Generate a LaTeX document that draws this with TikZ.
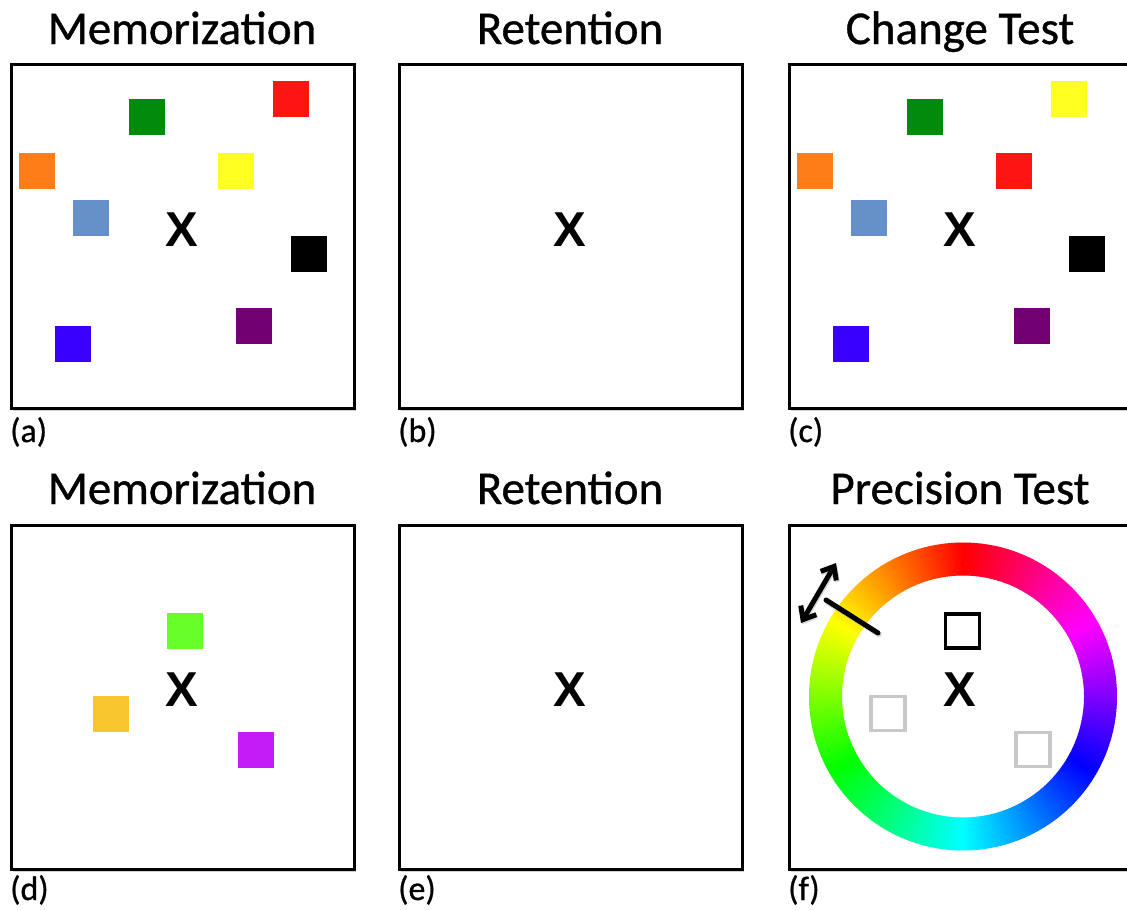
\documentclass[tikz,border=0pt]{standalone}
\usepackage{fontspec}
\setmainfont{Carlito}[FakeBold=0.8]
\newfontfamily\xfont{Liberation Sans}
\usetikzlibrary{arrows.meta,shadows}
\tikzset{
  panel/.style={draw=black, line width=3pt, fill=white, minimum width=343pt, minimum height=344pt,
    inner sep=0pt, anchor=north west,
    drop shadow={shadow xshift=1.2pt, shadow yshift=-2pt, opacity=0.35}},
  ptitle/.style={anchor=base, inner sep=0pt, font=\fontsize{47}{50}\selectfont},
  plabel/.style={anchor=base west, inner sep=0pt, font=\fontsize{34}{38}\selectfont},
  fix/.style={inner sep=0pt, font=\xfont\bfseries\fontsize{49}{52}\selectfont},
  sq/.style={fill=#1, minimum size=36pt, inner sep=0pt},
  probe/.style={draw=#1, line width=3.2pt, minimum size=34pt, inner sep=0pt},
  barb/.style={line width=5pt, {Straight Barb[length=11pt,width=18pt]}-{Straight Barb[length=11pt,width=18pt]}},
}
\definecolor{cgreen}{HTML}{008C0A}
\definecolor{cred}{HTML}{FF1414}
\definecolor{corange}{HTML}{FF7D18}
\definecolor{cyellow}{HTML}{FFFF22}
\definecolor{clblue}{HTML}{6690C8}
\definecolor{cpurple}{HTML}{730073}
\definecolor{cblue}{HTML}{3A00FF}
\definecolor{dgreen}{HTML}{66FF2A}
\definecolor{dgold}{HTML}{F7C62E}
\definecolor{dviolet}{HTML}{C31CF7}
\definecolor{pgray}{HTML}{C8C8C8}
\begin{document}
\begin{tikzpicture}[x=1pt, y=-1pt]
\useasboundingbox (0,0) rectangle (1127,910);
\clip (0,0) rectangle (1127,910);

% panel frames
\node[panel] (pa) at (10,63) {};
\node[panel] (pb) at (398,63) {};
\node[panel] (pc) at (788,63) {};
\node[panel] (pd) at (10,524) {};
\node[panel] (pe) at (398,524) {};
\node[panel] (pf) at (788,524) {};

% titles
\node[ptitle] (ta) at (182,44) {Memorization};
\node[ptitle] (tb) at (570,44) {Retention};
\node[ptitle] (tc) at (960,44) {Change Test};
\node[ptitle] (td) at (182,504) {Memorization};
\node[ptitle] (te) at (570,504) {Retention};
\node[ptitle] (tf) at (960,504) {Precision Test};

% panel letters
\node[plabel] (la) at (10,442) {(a)};
\node[plabel] (lb) at (398,442) {(b)};
\node[plabel] (lc) at (788,442) {(c)};
\node[plabel] (ld) at (10,900) {(d)};
\node[plabel] (le) at (398,900) {(e)};
\node[plabel] (lf) at (788,900) {(f)};

% fixation crosses
\node[fix] (xa) at (182,230) {X};
\node[fix] (xb) at (570,230) {X};
\node[fix] (xc) at (960,230) {X};
\node[fix] (xd) at (182,690) {X};
\node[fix] (xe) at (570,690) {X};
\node[fix] (xf) at (960,690) {X};

% (a) memory array
\node[sq=cgreen]  (a1) at (147,117) {};
\node[sq=cred]    (a2) at (291,99) {};
\node[sq=corange] (a3) at (37,171) {};
\node[sq=cyellow] (a4) at (236,171) {};
\node[sq=clblue]  (a5) at (91,218) {};
\node[sq=black]   (a6) at (309,253.5) {};
\node[sq=cpurple] (a7) at (254,326) {};
\node[sq=cblue]   (a8) at (73,344) {};

% (c) test array: red and yellow swapped
\node[sq=cgreen]  (c1) at (925,117) {};
\node[sq=cyellow] (c2) at (1069,99) {};
\node[sq=corange] (c3) at (815,171) {};
\node[sq=cred]    (c4) at (1014,171) {};
\node[sq=clblue]  (c5) at (869,218) {};
\node[sq=black]   (c6) at (1087,253.5) {};
\node[sq=cpurple] (c7) at (1032,326) {};
\node[sq=cblue]   (c8) at (851,344) {};

% (d) memory array
\node[sq=dgreen]  (d1) at (185,631) {};
\node[sq=dgold]   (d2) at (111,714) {};
\node[sq=dviolet] (d3) at (255.5,750) {};

% (f) colour wheel
\begin{scope}[shift={(963,696.5)}]
  \foreach \h in {0,...,359} {
    \definecolor{hc}{Hsb}{\h,1,1}
    \pgfmathsetmacro\aa{-90-\h+0.6}
    \pgfmathsetmacro\bb{-90-\h-0.6}
    \fill[hc] (\aa:154) arc[start angle=\aa, end angle=\bb, radius=154]
      -- (\bb:121) arc[start angle=\bb, end angle=\aa, radius=121] -- cycle;
  }
\end{scope}

% (f) probes
\node[probe=black] (f1) at (962.5,631) {};
\node[probe=pgray] (f2) at (888,713.5) {};
\node[probe=pgray] (f3) at (1033,749.5) {};

% (f) response marker and adjustment arrow
\coordinate (m1) at (826,600);
\coordinate (m2) at (878,633);
\coordinate (r1) at (801,623);
\coordinate (r2) at (836,563);
\draw[black!25, line width=5.5pt, line cap=round, opacity=0.6] ([shift={(1,1.5)}]m1) -- ([shift={(1,1.5)}]m2);
\draw[line width=5pt, line cap=round] (m1) -- (m2);
\draw[barb, black!25, opacity=0.6] ([shift={(1,1.5)}]r1) -- ([shift={(1,1.5)}]r2);
\draw[barb] (r1) -- (r2);
\end{tikzpicture}
\end{document}
